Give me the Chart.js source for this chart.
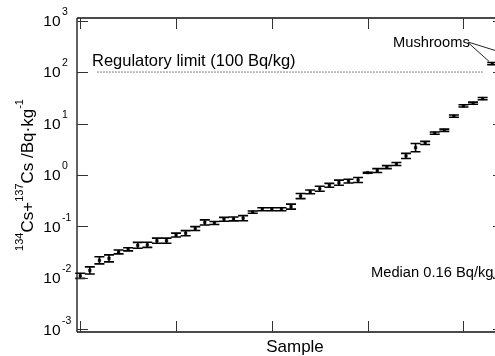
<!DOCTYPE html>
<html><head><meta charset="utf-8">
<script src="https://cdn.jsdelivr.net/npm/chart.js@4.4.0/dist/chart.umd.min.js"></script>
<style>
html,body{margin:0;padding:0;overflow:hidden;background:#fff;width:495px;height:356px}
#wrap{position:absolute;left:0;top:0;width:520px;height:356px}
</style>
</head><body><div id="wrap"><canvas id="c" width="520" height="356"></canvas></div>
<script>
// ---- data ----
const sampleIndex = [1,2,3,4,5,6,7,8,9,10,11,12,13,14,15,16,17,18,19,20,21,22,23,24,25,26,27,28,29,30,31,32,33,34,35,36,37,38,39,40,41,42,43,44];
const activity = [0.011,0.014,0.022,0.024,0.032,0.036,0.043,0.044,0.053,0.053,0.068,0.074,0.091,0.12,0.117,0.138,0.14,0.145,0.19,0.216,0.216,0.216,0.243,0.39,0.47,0.54,0.63,0.71,0.76,0.80,1.11,1.22,1.42,1.64,2.35,3.4,4.2,6.5,7.4,13.9,22,24.8,30.5,146];
const uncertaintyPct = [12,17,17,17,9,7,14,12,12,12,9,12,9,12,7,9,9,12,5,7,7,7,12,12,9,12,9,12,9,12,2,9,7,7,12,20,7,5,5,5,5,5,5,5];
const regulatoryLimit = 100;
const yTickExponents = [-3,-2,-1,0,1,2,3];
const xTickSamples = [1,11,21,31,41];
const regulatoryLabel = 'Regulatory limit (100 Bq/kg)';
const mushroomLabel = 'Mushrooms';
const medianLabel = 'Median 0.16 Bq/kg';
const xTitle = 'Sample';

const FONT = '"Liberation Sans", Arial, Helvetica, sans-serif';

const points = activity.map((v,i)=>({x:sampleIndex[i], y:v}));

const decor = {
  id:'decor',
  beforeDatasetsDraw(chart){
    const {ctx, scales:{x,y}} = chart;
    ctx.save();
    ctx.strokeStyle = '#000';
    ctx.lineWidth = 1.6;
    activity.forEach((v,i)=>{
      const f = 1 + uncertaintyPct[i]/100;
      const px = x.getPixelForValue(sampleIndex[i]);
      const yl = y.getPixelForValue(v/f);
      const yh = y.getPixelForValue(v*f);
      ctx.beginPath();
      ctx.moveTo(px, yl); ctx.lineTo(px, yh);
      ctx.moveTo(px-5, yl); ctx.lineTo(px+5, yl);
      ctx.moveTo(px-5, yh); ctx.lineTo(px+5, yh);
      ctx.stroke();
    });
    ctx.restore();
  },
  afterDraw(chart){
    const {ctx, chartArea:a, scales:{x,y}} = chart;
    ctx.save();
    // frame
    ctx.strokeStyle = '#111';
    ctx.lineWidth = 1.3;
    ctx.beginPath();
    ctx.moveTo(a.left, a.top); ctx.lineTo(a.right, a.top);
    ctx.moveTo(a.left, a.bottom); ctx.lineTo(a.right, a.bottom);
    ctx.moveTo(a.left, a.top); ctx.lineTo(a.left, a.bottom);
    ctx.moveTo(a.right, a.top); ctx.lineTo(a.right, a.bottom);
    ctx.stroke();
    // ticks (inward)
    ctx.strokeStyle = '#333';
    ctx.lineWidth = 1;
    ctx.beginPath();
    xTickSamples.forEach(s=>{
      const px = Math.round(x.getPixelForValue(s))+0.5;
      ctx.moveTo(px, a.top); ctx.lineTo(px, a.top+11);
      ctx.moveTo(px, a.bottom); ctx.lineTo(px, a.bottom-11);
    });
    yTickExponents.forEach(e=>{
      const py = Math.round(y.getPixelForValue(Math.pow(10,e)))+0.5;
      ctx.moveTo(a.left, py); ctx.lineTo(a.left+11, py);
      ctx.moveTo(a.right, py); ctx.lineTo(a.right-11, py);
    });
    ctx.stroke();
    // y tick labels 10^n
    ctx.fillStyle = '#000';
    yTickExponents.forEach(e=>{
      const py = y.getPixelForValue(Math.pow(10,e));
      ctx.font = '15.5px ' + FONT;
      ctx.textAlign = 'right';
      ctx.textBaseline = 'middle';
      ctx.fillText('10', 60.5, py+1);
      ctx.font = '10.5px ' + FONT;
      ctx.textAlign = 'left';
      ctx.fillText(String(e), 62, py-8.5);
    });
    // x title
    ctx.font = '17px ' + FONT;
    ctx.textAlign = 'center';
    ctx.textBaseline = 'middle';
    ctx.fillText(xTitle, 295, 347);
    // y title (rotated, with superscripts)
    ctx.save();
    ctx.translate(33, 175);
    ctx.rotate(-Math.PI/2);
    const parts = [
      {t:'134', s:11, dy:-10},
      {t:'Cs+', s:17, dy:0},
      {t:'137', s:11, dy:-10},
      {t:'Cs /Bq\u00B7kg', s:17, dy:0},
      {t:'-1', s:11, dy:-10}
    ];
    let total = 0;
    parts.forEach(p=>{ctx.font = p.s+'px '+FONT; p.w = ctx.measureText(p.t).width; total += p.w;});
    let cx = -total/2;
    ctx.textAlign = 'left';
    ctx.textBaseline = 'alphabetic';
    parts.forEach(p=>{ctx.font = p.s+'px '+FONT; ctx.fillText(p.t, cx, p.dy); cx += p.w;});
    ctx.restore();
    // annotations
    ctx.textAlign = 'left';
    ctx.textBaseline = 'alphabetic';
    ctx.font = '16.5px ' + FONT;
    ctx.fillText(regulatoryLabel, 92, 65.5);
    ctx.font = '14.7px ' + FONT;
    ctx.fillText(mushroomLabel, 393, 47);
    ctx.fillText(medianLabel, 371, 277);
    // mushroom leader lines
    const last = activity.length-1;
    ctx.strokeStyle = '#222';
    ctx.lineWidth = 1;
    ctx.beginPath();
    ctx.moveTo(468, 42.5);
    ctx.lineTo(x.getPixelForValue(sampleIndex[last])-3, y.getPixelForValue(activity[last])-2);
    ctx.moveTo(468, 42);
    ctx.lineTo(x.getPixelForValue(45.3), y.getPixelForValue(230));
    ctx.moveTo(492, 276);
    ctx.lineTo(500, 283);
    ctx.stroke();
    ctx.restore();
  }
};

new Chart(document.getElementById('c'), {
  type:'scatter',
  data:{datasets:[
    {data:points, pointStyle:'rect', pointRadius:1.8, backgroundColor:'#000', borderColor:'#000', borderWidth:0.5},
    {data:[{x:2.77,y:regulatoryLimit},{x:43,y:regulatoryLimit}], showLine:true, borderColor:'#555', borderWidth:1, borderDash:[1.5,1.5], pointRadius:0}
  ]},
  options:{
    responsive:false, animation:false, devicePixelRatio:1,
    layout:{padding:{left:77, top:18, right:16, bottom:24}},
    plugins:{legend:{display:false}, tooltip:{enabled:false}},
    scales:{
      x:{type:'linear', display:false, min:0.66, max:45.23},
      y:{type:'logarithmic', display:false, min:Math.pow(10,-3.05), max:Math.pow(10,3.05)}
    }
  },
  plugins:[decor]
});
</script>
</body></html>
